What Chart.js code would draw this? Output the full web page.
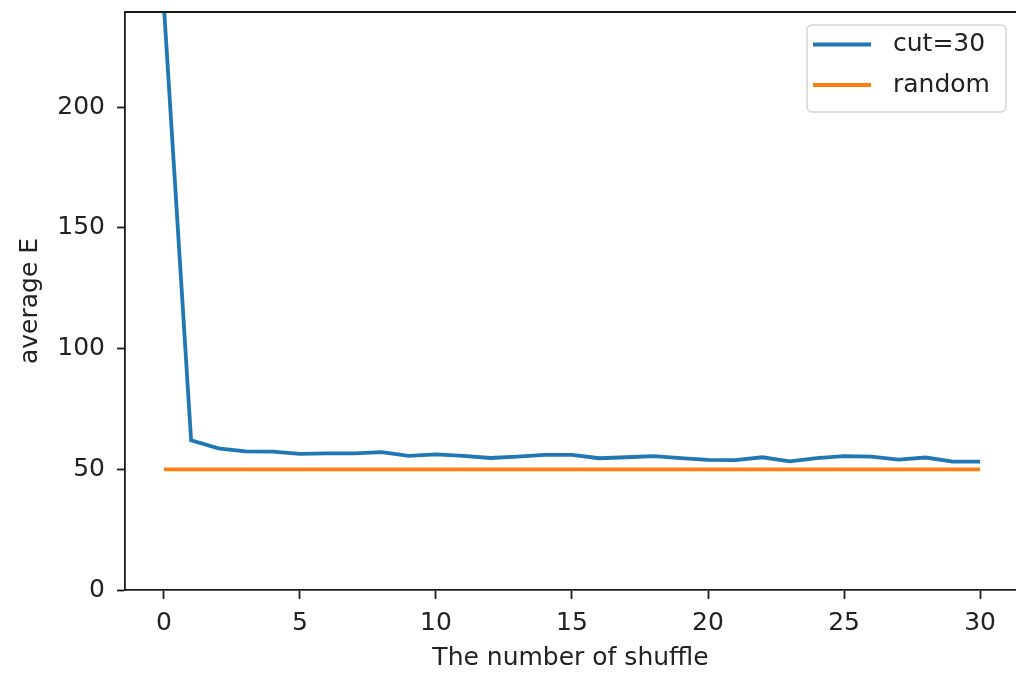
<!DOCTYPE html>
<html>
<head>
<meta charset="utf-8">
<title>average E vs number of shuffles</title>
<script src="https://cdn.jsdelivr.net/npm/chart.js@4.4.1/dist/chart.umd.min.js"></script>
<style>
  html, body { margin: 0; padding: 0; background: #ffffff; }
  #chart { display: block; }
</style>
</head>
<body>
<canvas id="chart" width="1016" height="674"></canvas>
<script>
// Number of shuffles (x values)
const shuffles = [0, 1, 2, 3, 4, 5, 6, 7, 8, 9, 10, 11, 12, 13, 14, 15,
                  16, 17, 18, 19, 20, 21, 22, 23, 24, 25, 26, 27, 28, 29, 30];
// Average E after each shuffle with cut=30
const cut30E = [242, 62.0, 58.7, 57.4, 57.3, 56.4, 56.6, 56.6, 57.1, 55.6, 56.2,
                55.6, 54.7, 55.3, 56.0, 56.0, 54.6, 55.0, 55.5, 54.6, 53.9,
                53.8, 55.0, 53.3, 54.6, 55.5, 55.3, 54.0, 54.9, 53.2, 53.2];
// Average E of a random deck
const randomE = [50, 50, 50, 50, 50, 50, 50, 50, 50, 50, 50,
                 50, 50, 50, 50, 50, 50, 50, 50, 50, 50,
                 50, 50, 50, 50, 50, 50, 50, 50, 50, 50];
const seriesLabels = ['cut=30', 'random'];
const xTicks = [0, 5, 10, 15, 20, 25, 30];
const yTicks = [0, 50, 100, 150, 200];

const FONT = "'DejaVu Sans', sans-serif";
const TEXT = '#222222';
const AXIS = '#1a1a1a';

const toPoints = ys => shuffles.map((x, i) => ({ x: x, y: ys[i] }));

// Top spine plus a framed legend inside the plot area
const framePlugin = {
  id: 'frameAndLegend',
  afterDatasetsDraw(chart) {
    const { ctx, chartArea } = chart;
    ctx.save();
    ctx.strokeStyle = AXIS;
    ctx.lineWidth = 1.8;
    ctx.beginPath();
    ctx.moveTo(chartArea.left - 0.9, chartArea.top);
    ctx.lineTo(chartArea.right, chartArea.top);
    ctx.stroke();

    // legend box
    const bx = 807, by = 25, bw = 199, bh = 87, r = 5;
    ctx.globalAlpha = 0.9;
    ctx.fillStyle = '#ffffff';
    ctx.beginPath();
    ctx.roundRect(bx, by, bw, bh, r);
    ctx.fill();
    ctx.globalAlpha = 1;
    ctx.strokeStyle = '#d4d4d4';
    ctx.lineWidth = 1.5;
    ctx.stroke();

    const rows = [44.5, 85];
    chart.data.datasets.forEach((ds, i) => {
      const y = rows[i];
      ctx.strokeStyle = ds.borderColor;
      ctx.lineWidth = ds.borderWidth;
      ctx.beginPath();
      ctx.moveTo(813, y);
      ctx.lineTo(871, y);
      ctx.stroke();
      ctx.fillStyle = TEXT;
      ctx.font = '25px ' + FONT;
      ctx.textAlign = 'left';
      ctx.textBaseline = 'middle';
      ctx.fillText(ds.label, 893, y);
    });
    ctx.restore();
  }
};

const keepTicks = list => scale => {
  scale.ticks = list.map(v => ({ value: v }));
};

// Fixed axis box sizes, with no extra room for edge tick labels
const fixSize = (dim, size) => scale => {
  scale[dim] = size;
  scale.paddingTop = 0;
  scale.paddingBottom = 0;
  scale.paddingLeft = 0;
  scale.paddingRight = 0;
};

new Chart(document.getElementById('chart'), {
  type: 'line',
  data: {
    datasets: [
      {
        label: seriesLabels[0],
        data: toPoints(cut30E),
        borderColor: '#1f77b4',
        borderWidth: 3.8,
        pointRadius: 0,
        tension: 0,
        clip: 0
      },
      {
        label: seriesLabels[1],
        data: toPoints(randomE),
        borderColor: '#ff7f0e',
        borderWidth: 3.8,
        pointRadius: 0,
        tension: 0,
        clip: 0
      }
    ]
  },
  options: {
    responsive: false,
    devicePixelRatio: 1,
    animation: false,
    events: [],
    layout: { padding: { top: 12, right: 0, left: 0, bottom: 0 } },
    plugins: {
      legend: { display: false },
      tooltip: { enabled: false }
    },
    scales: {
      x: {
        type: 'linear',
        min: -1.43,
        max: 31.32,
        afterBuildTicks: keepTicks(xTicks),
        afterFit: fixSize('height', 84),
        grid: {
          drawOnChartArea: false,
          drawTicks: true,
          tickLength: 9,
          tickColor: AXIS,
          tickWidth: 1.8
        },
        border: { display: true, color: AXIS, width: 1.8 },
        ticks: {
          color: TEXT,
          font: { family: FONT, size: 25 },
          padding: 9,
          maxRotation: 0
        },
        title: {
          display: true,
          text: 'The number of shuffle',
          color: TEXT,
          font: { family: FONT, size: 25, lineHeight: 1.2 },
          padding: { top: 0, bottom: 1 }
        }
      },
      y: {
        type: 'linear',
        min: 0,
        max: 239.5,
        afterBuildTicks: keepTicks(yTicks),
        afterFit: fixSize('width', 125),
        grid: {
          drawOnChartArea: false,
          drawTicks: true,
          tickLength: 8,
          tickColor: AXIS,
          tickWidth: 1.8
        },
        border: { display: true, color: AXIS, width: 1.8 },
        ticks: {
          color: TEXT,
          font: { family: FONT, size: 25 },
          padding: 12
        },
        title: {
          display: true,
          text: 'average E',
          color: TEXT,
          font: { family: FONT, size: 25, lineHeight: 1.2 },
          padding: { top: 15, bottom: 0 }
        }
      }
    }
  },
  plugins: [framePlugin]
});
</script>
</body>
</html>
